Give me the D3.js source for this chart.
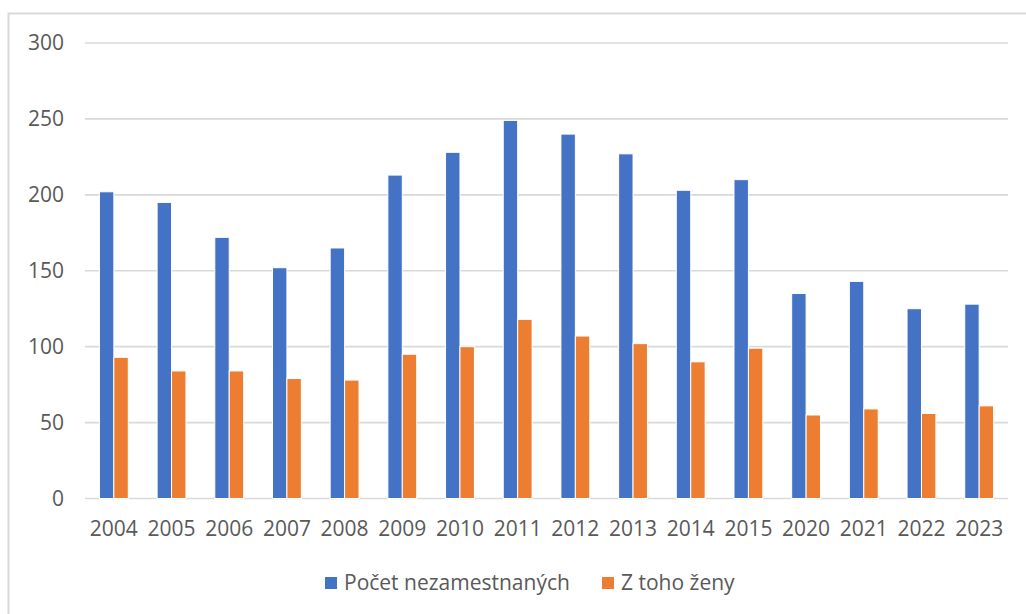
<!DOCTYPE html>
<html>
<head>
<meta charset="utf-8">
<script src="https://d3js.org/d3.v7.min.js"></script>
<style>
  body { margin: 0; background: #fff; }
  text { font-family: "Open Sans", "Noto Sans", sans-serif; fill: #595959; }
</style>
</head>
<body>
<div id="chart"></div>
<script>
// data
var years = ["2004","2005","2006","2007","2008","2009","2010","2011","2012","2013","2014","2015","2020","2021","2022","2023"];
var unemployed = [202, 195, 172, 152, 165, 213, 228, 249, 240, 227, 203, 210, 135, 143, 125, 128];
var women = [93, 84, 84, 79, 78, 95, 100, 118, 107, 102, 90, 99, 55, 59, 56, 61];
var seriesNames = ["Počet nezamestnaných", "Z toho ženy"];
var yTicks = [0, 50, 100, 150, 200, 250, 300];

var colors = ["#4472C4", "#ED7D31"];

var width = 1026, height = 614;
var margin = {top: 43, right: 18, bottom: 115, left: 85};

var svg = d3.select("#chart")
  .append("svg")
  .attr("width", width)
  .attr("height", height);

// chart frame
svg.append("rect")
  .attr("x", 8.5)
  .attr("y", 13.5)
  .attr("width", 1030)
  .attr("height", 620)
  .attr("fill", "none")
  .attr("stroke", "#d9d9d9")
  .attr("stroke-width", 2);

var x = d3.scaleBand()
  .domain(years)
  .range([margin.left, width - margin.right])
  .paddingInner(0.5)
  .paddingOuter(0.25);

var xs = d3.scaleBand()
  .domain([0, 1])
  .range([0, x.bandwidth()]);

var y = d3.scaleLinear()
  .domain([0, 300])
  .range([height - margin.bottom - 0.5, margin.top]);

// gridlines
svg.append("g")
  .selectAll("line")
  .data(yTicks)
  .enter()
  .append("line")
    .attr("x1", margin.left)
    .attr("x2", width - margin.right)
    .attr("y1", function(d){ return y(d); })
    .attr("y2", function(d){ return y(d); })
    .attr("stroke", "#d9d9d9")
    .attr("stroke-width", 1.6);

// y labels
svg.append("g")
  .selectAll("text")
  .data(yTicks)
  .enter()
  .append("text")
    .attr("x", 64)
    .attr("y", function(d){ return y(d); })
    .attr("dy", "0.35em")
    .attr("text-anchor", "end")
    .style("font-size", "21px")
    .text(function(d){ return d; });

// bars
var rows = years.map(function(yr, i){ return {year: yr, values: [unemployed[i], women[i]]}; });

var groups = svg.append("g")
  .selectAll("g")
  .data(rows)
  .enter()
  .append("g")
    .attr("transform", function(d){ return "translate(" + x(d.year) + ",0)"; });

groups.selectAll("rect")
  .data(function(d){ return d.values.map(function(v, k){ return {k: k, v: v}; }); })
  .enter()
  .append("rect")
    .attr("x", function(d){ return xs(d.k); })
    .attr("y", function(d){ return y(d.v); })
    .attr("width", xs.bandwidth())
    .attr("height", function(d){ return y(0) - y(d.v); })
    .attr("fill", function(d){ return colors[d.k]; })
    .attr("stroke", "#fff")
    .attr("stroke-width", 1);

// x labels
svg.append("g")
  .selectAll("text")
  .data(years)
  .enter()
  .append("text")
    .attr("x", function(d){ return x(d) + x.bandwidth() / 2; })
    .attr("y", 529)
    .attr("dy", "0.35em")
    .attr("text-anchor", "middle")
    .style("font-size", "21px")
    .text(function(d){ return d; });

// legend
var legendX = [325, 602];
var legend = svg.append("g")
  .selectAll("g")
  .data(seriesNames)
  .enter()
  .append("g")
    .attr("transform", function(d, i){ return "translate(" + legendX[i] + ",577)"; });

legend.append("rect")
  .attr("width", 12)
  .attr("height", 12)
  .attr("fill", function(d, i){ return colors[i]; });

legend.append("text")
  .attr("x", 19)
  .attr("y", 6)
  .attr("dy", "0.35em")
  .style("font-size", "21px")
  .text(function(d){ return d; });
</script>
</body>
</html>
